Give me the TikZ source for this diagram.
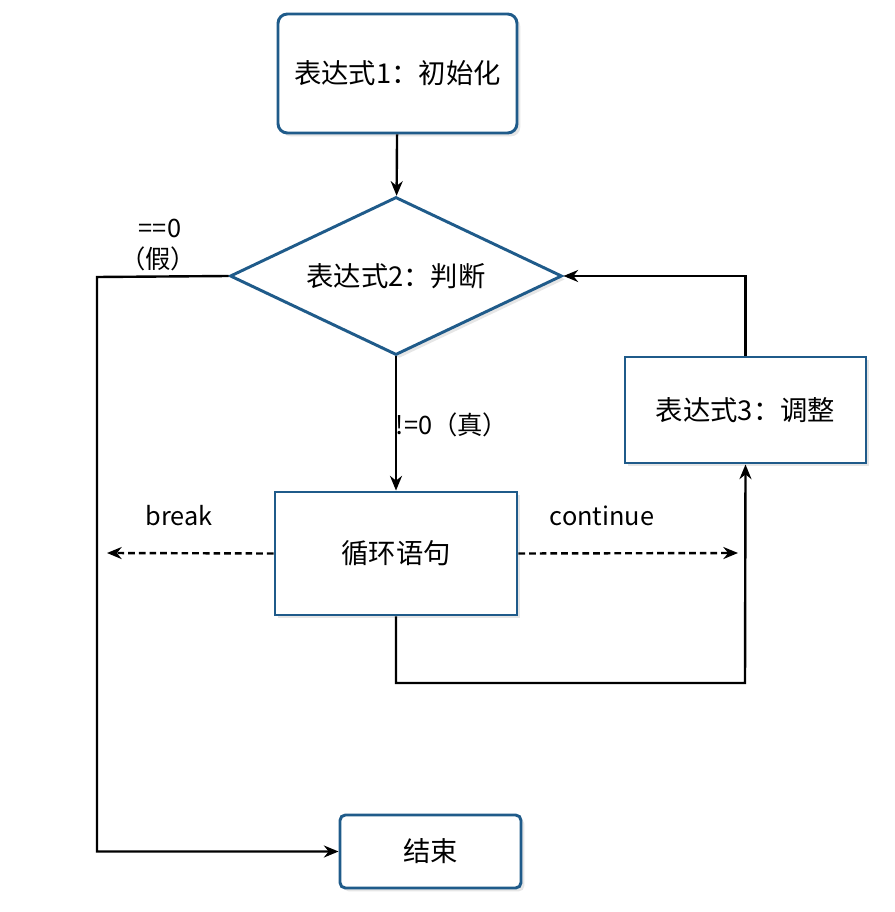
\documentclass[tikz,border=0pt]{standalone}
\usepackage{fontspec}
\setmainfont{Noto Sans CJK SC}
\usetikzlibrary{shapes.geometric,arrows.meta,shadows}

\definecolor{boxblue}{RGB}{31,91,138}
\tikzset{every picture/.style={line width=0.75pt}}
\tikzset{
  blk/.style={draw=boxblue, line width=2.2pt, fill=white, align=center,
    font=\fontsize{20.5}{24}\selectfont,
    drop shadow={opacity=0.2, shadow xshift=2.5pt, shadow yshift=-2.5pt}},
  flow/.style={draw=black, line width=1.8pt, -{Stealth[length=11pt,width=9pt]}},
  dflow/.style={flow, dash pattern=on 5pt off 3pt},
  lbl/.style={inner sep=0.75pt, font=\fontsize{19}{23}\selectfont}
}

\begin{document}
\begin{tikzpicture}[x=0.75pt,y=0.75pt,yscale=-1,xscale=1]
\useasboundingbox (0,0) rectangle (894,912);

%Shape: Rectangle [init]
\node [blk, rounded corners=7pt, minimum width=179.25pt, minimum height=89.25pt] (init) at (397.5,73.5) {表达式1：初始化};
%Shape: Diamond [test]
\node [blk, diamond, shape aspect=2.1, inner sep=0pt, minimum width=249pt, minimum height=118.5pt] (test) at (396,276) {表达式2：判断};
%Shape: Rectangle [body]
\node [blk, minimum width=181.5pt, minimum height=92.25pt] (body) at (396,553.5) {循环语句};
%Shape: Rectangle [step3]
\node [blk, minimum width=180.75pt, minimum height=79.5pt] (step3) at (745.5,410) {表达式3：调整};
%Shape: Rectangle [finish]
\node [blk, rounded corners=4pt, minimum width=135.75pt, minimum height=54.75pt] (finish) at (430.5,851.5) {结束};

%Straight Lines
\coordinate (leftside) at (97,277);
\coordinate (brk) at (107,553);
\coordinate (cnt) at (738,553);
\coordinate (under) at (745,683);

\draw [flow] (init) -- (test);
\draw [flow] (test) -- (body);
\draw [flow] (test.west) -- (leftside) |- (finish.west);
\draw [dflow] (body.west) -- (brk);
\draw [dflow] (body.east) -- (cnt);
\draw [flow] (body.south) |- (under) -- (step3.south);
\draw [flow] (step3.north) |- (test.east);

% Text Node
\node [lbl] (eqz) at (160,228) {==0};
% Text Node
\node [lbl] (fls) at (158,259) {（假）};
% Text Node
\node [lbl] (neq) at (452,425) {!=0（真）};
% Text Node
\node [lbl] (brklbl) at (179,516) {break};
% Text Node
\node [lbl] (cntlbl) at (602,516) {continue};

\end{tikzpicture}
\end{document}
